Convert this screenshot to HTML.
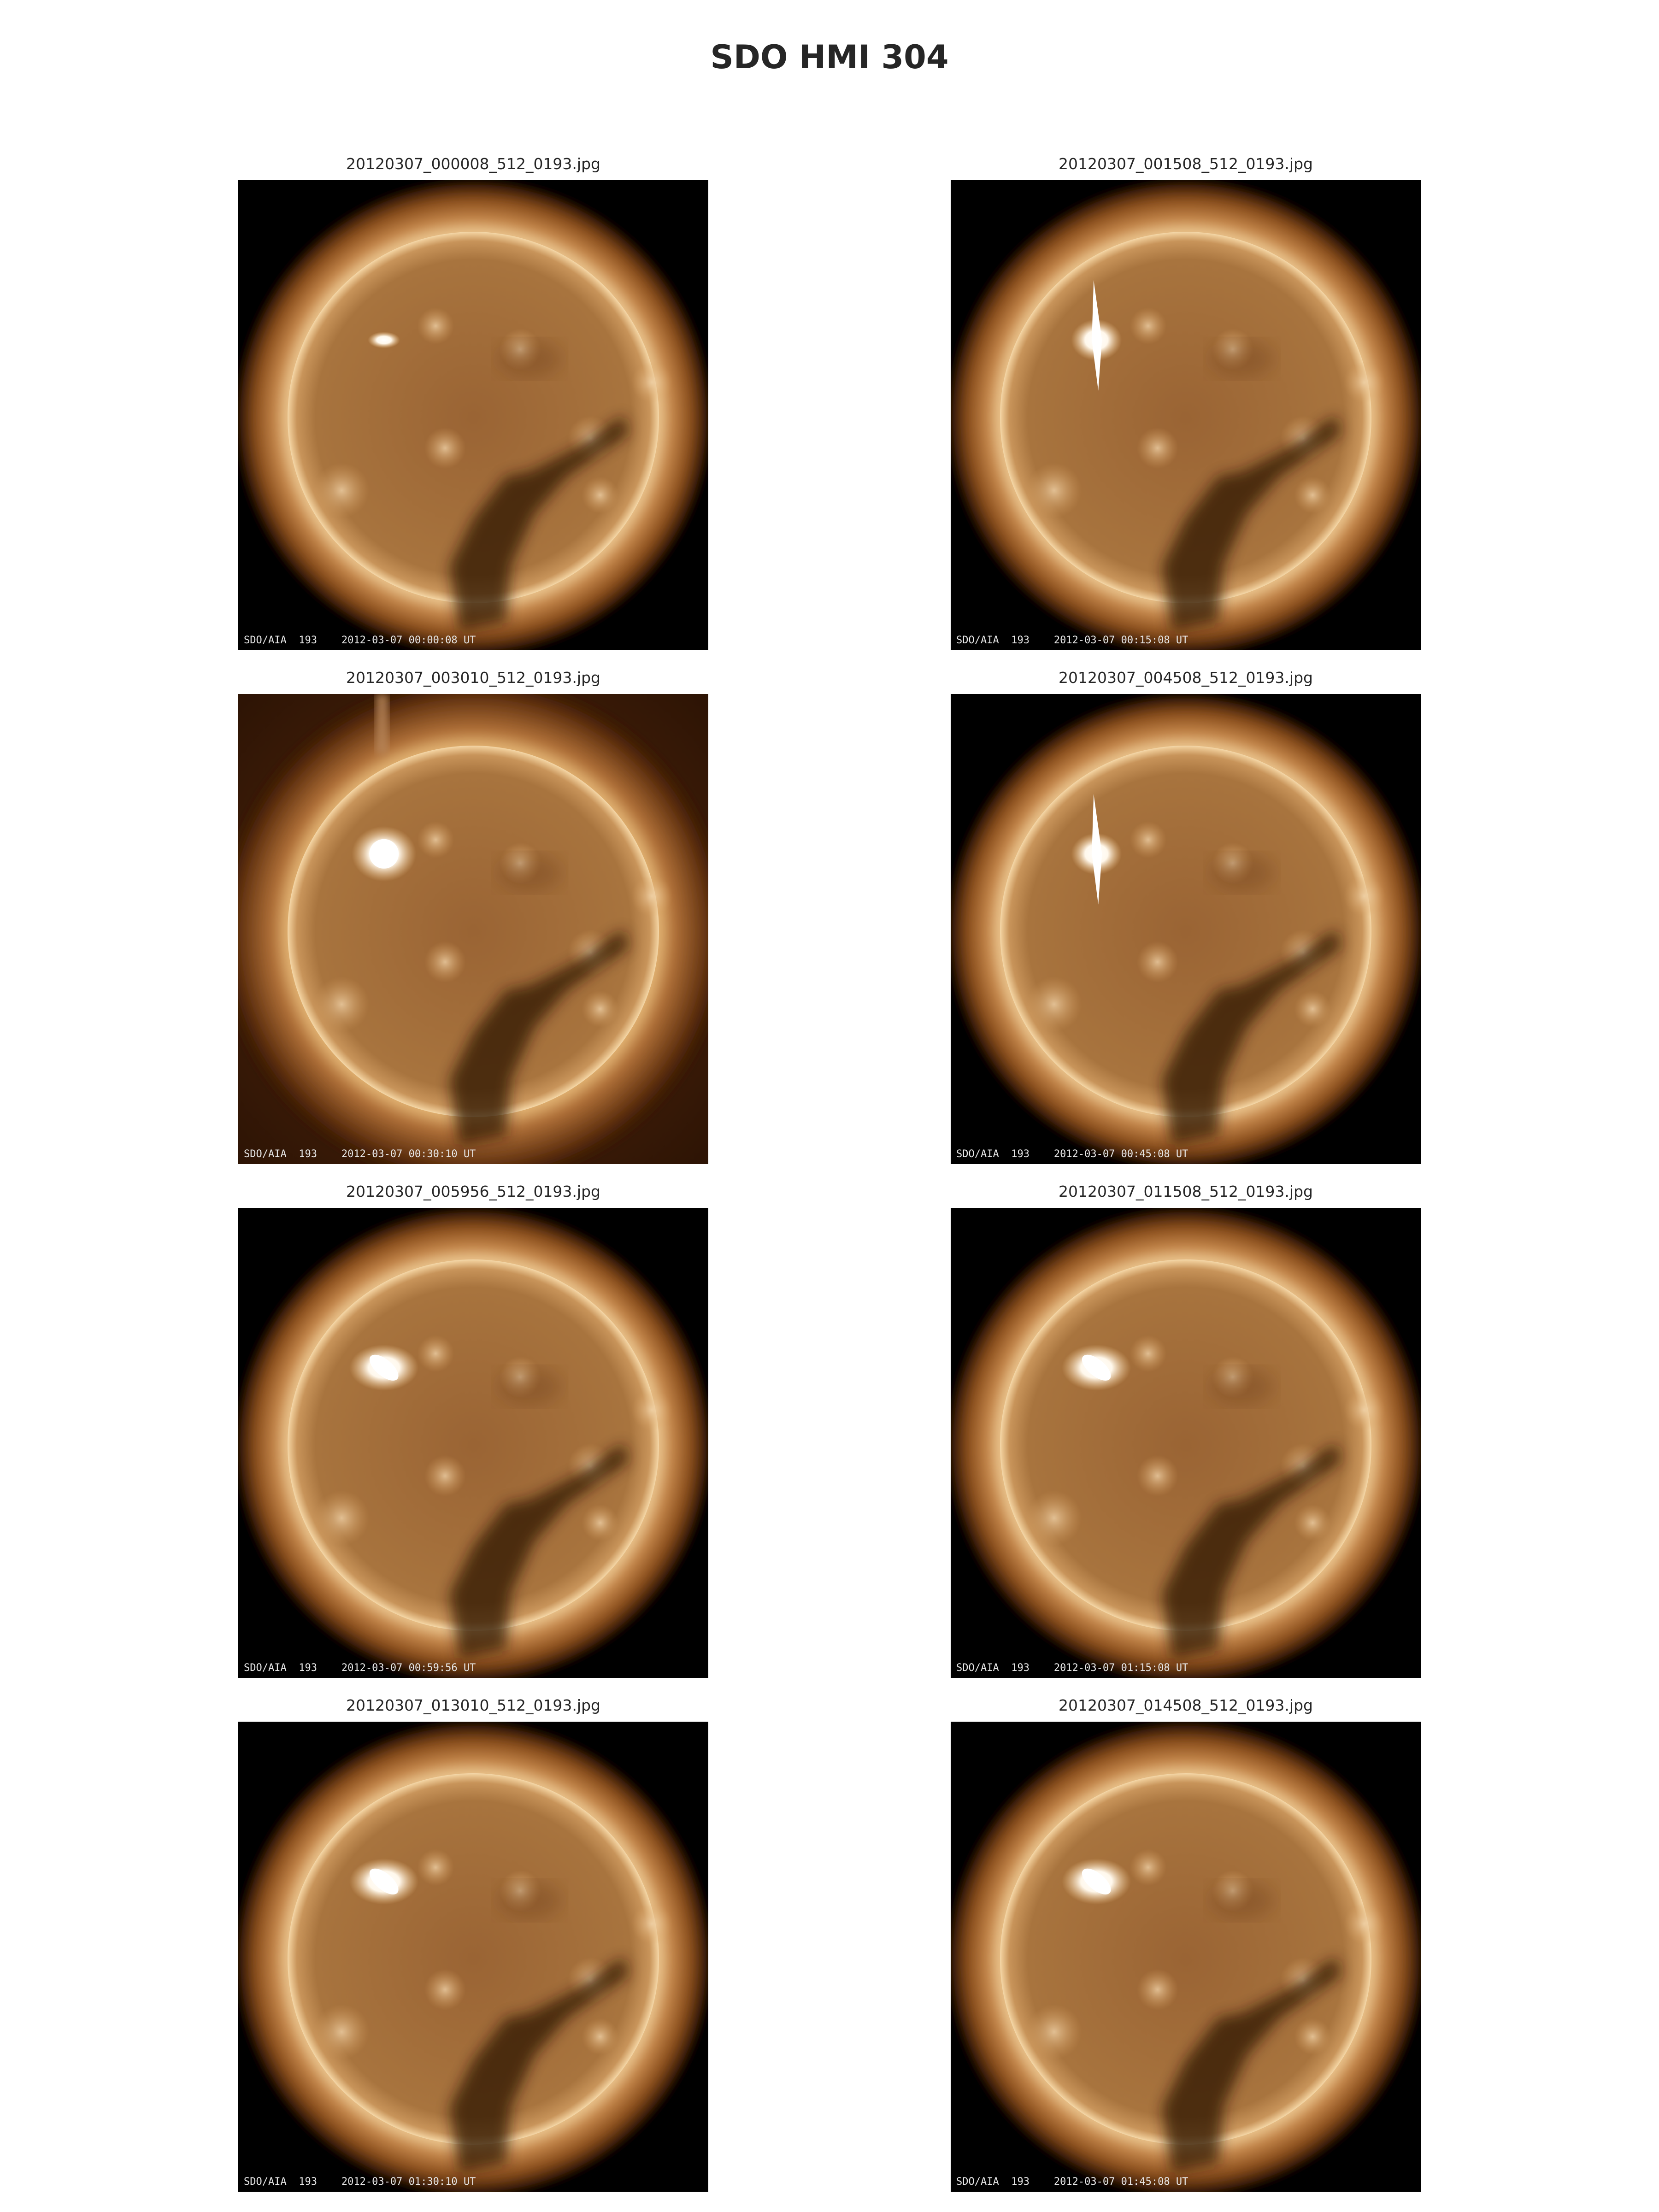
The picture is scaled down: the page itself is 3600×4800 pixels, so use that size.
<!DOCTYPE html>
<html><head><meta charset="utf-8">
<style>
html,body{margin:0;padding:0;background:#fff;}
#fig{position:relative;width:3600px;height:4800px;overflow:hidden;background:#fff;}
</style></head>
<body>
<div id="fig">
<svg id="svg" width="3600" height="4800" viewBox="0 0 3600 4800" xmlns="http://www.w3.org/2000/svg">
<defs>
<radialGradient id="corona" cx="0.5" cy="0.5" r="0.5">
<stop offset="0" stop-color="#f0d0a0"/>
<stop offset="0.77" stop-color="#e8c088"/>
<stop offset="0.82" stop-color="#c4864a"/>
<stop offset="0.9" stop-color="#8a4e1c"/>
<stop offset="0.97" stop-color="#2a1204"/>
<stop offset="1" stop-color="#000" stop-opacity="0"/>
</radialGradient>
<radialGradient id="corona2" cx="0.5" cy="0.5" r="0.5">
<stop offset="0" stop-color="#f0d0a0"/>
<stop offset="0.72" stop-color="#e0b070"/>
<stop offset="0.78" stop-color="#b07038"/>
<stop offset="0.92" stop-color="#5a2c0c"/>
<stop offset="1" stop-color="#3a1a06" stop-opacity="0"/>
</radialGradient>
<radialGradient id="disk" cx="0.5" cy="0.5" r="0.5">
<stop offset="0" stop-color="#9a6434"/>
<stop offset="0.85" stop-color="#a8743e"/>
<stop offset="0.95" stop-color="#c8945a"/>
<stop offset="0.99" stop-color="#ecc894"/>
<stop offset="1" stop-color="#f4d8aa"/>
</radialGradient>
<radialGradient id="flareG" cx="0.5" cy="0.5" r="0.5">
<stop offset="0" stop-color="#ffffff"/>
<stop offset="0.45" stop-color="#fff8ec"/>
<stop offset="1" stop-color="#f0c890" stop-opacity="0"/>
</radialGradient>
<radialGradient id="brightG" cx="0.5" cy="0.5" r="0.5">
<stop offset="0" stop-color="#f0d2a8"/>
<stop offset="1" stop-color="#d8a060" stop-opacity="0"/>
</radialGradient>
<radialGradient id="noiseBg" cx="0.5" cy="0.5" r="0.75">
<stop offset="0" stop-color="#5a2c0c"/>
<stop offset="1" stop-color="#2a1204"/>
</radialGradient>
<filter id="blur8"><feGaussianBlur stdDeviation="8"/></filter>
<filter id="blur15"><feGaussianBlur stdDeviation="15"/></filter>
<filter id="blur20"><feGaussianBlur stdDeviation="20"/></filter>
</defs>
<text x="1800" y="148" text-anchor="middle" font-family="'DejaVu Sans','Liberation Sans',sans-serif" font-weight="bold" font-size="70" fill="#262626">SDO HMI 304</text>
<g id="panels"></g>
</svg>
</div>
<script>
const fileNames = ["20120307_000008_512_0193.jpg","20120307_001508_512_0193.jpg","20120307_003010_512_0193.jpg","20120307_004508_512_0193.jpg","20120307_005956_512_0193.jpg","20120307_011508_512_0193.jpg","20120307_013010_512_0193.jpg","20120307_014508_512_0193.jpg"];
const timeStamps = ["2012-03-07 00:00:08 UT","2012-03-07 00:15:08 UT","2012-03-07 00:30:10 UT","2012-03-07 00:45:08 UT","2012-03-07 00:59:56 UT","2012-03-07 01:15:08 UT","2012-03-07 01:30:10 UT","2012-03-07 01:45:08 UT"];
// flare type per frame: 0 small, 1 vertical spike, 2 blob w/ noisy bg, 3 elongated blob
const flareKind = [0,1,2,1,3,3,3,3];

const NS = "http://www.w3.org/2000/svg";
const colX = [517, 2063], rowY = [391, 1506, 2621, 3736], S = 1020;
const root = document.getElementById('panels');
function mk(tag, attrs, parent){ const e=document.createElementNS(NS,tag); for(const k in attrs) e.setAttribute(k,attrs[k]); parent.appendChild(e); return e; }

fileNames.forEach((fn,i)=>{
  const x0 = colX[i%2], y0 = rowY[Math.floor(i/2)], k = flareKind[i];
  const g = mk('g',{transform:`translate(${x0},${y0})`},root);
  
  
  const t = mk('text',{x:S/2,y:-24,'text-anchor':'middle','font-family':"'DejaVu Sans','Liberation Sans',sans-serif",'font-size':33,fill:'#262626'},g);
  t.textContent = fn;
  
  
  const cp = mk('clipPath',{id:'cp'+i},g); mk('rect',{x:0,y:0,width:S,height:S},cp);
  const inner = mk('g',{'clip-path':`url(#cp${i})`},g);
  mk('rect',{x:0,y:0,width:S,height:S,fill:k===2?'url(#noiseBg)':'#000'},inner);
  const cx=S/2, cy=S/2+5, r=403;
  mk('circle',{cx:cx,cy:cy,r:k===2?560:525,fill:k===2?'url(#corona2)':'url(#corona)',filter:'url(#blur8)'},inner);
  if(k===2){ mk('rect',{x:298,y:0,width:28,height:130,fill:'#b8865a',opacity:0.8,filter:'url(#blur8)'},inner); }
  mk('circle',{cx:cx,cy:cy,r:r,fill:'url(#disk)'},inner);
  [[0.42,0.31,40],[0.88,0.43,45],[0.22,0.66,60],[0.44,0.57,45],[0.75,0.55,50],[0.77,0.67,40],[0.6,0.36,45]].forEach(p=>{
    mk('circle',{cx:p[0]*S,cy:p[1]*S,r:p[2],fill:'url(#brightG)',opacity:0.8},inner);
  });
  mk('path',{d:`M ${0.47*S} ${0.96*S} L ${0.45*S} ${0.82*S} L ${0.50*S} ${0.72*S} L ${0.57*S} ${0.63*S} L ${0.62*S} ${0.62*S} L ${0.72*S} ${0.57*S} L ${0.82*S} ${0.50*S} L ${0.83*S} ${0.54*S} L ${0.70*S} ${0.63*S} L ${0.63*S} ${0.71*S} L ${0.58*S} ${0.82*S} L ${0.57*S} ${0.94*S} Z`,fill:'#2e1404',opacity:0.75,filter:'url(#blur15)'},inner);
  mk('ellipse',{cx:0.62*S,cy:0.38*S,rx:70,ry:40,fill:'#6a3a14',opacity:0.35,filter:'url(#blur20)'},inner);
  const fx=0.31*S, fy=0.34*S;
  if(k===0){ mk('ellipse',{cx:fx,cy:fy,rx:35,ry:18,fill:'url(#flareG)'},inner); }
  else if(k===1){ mk('ellipse',{cx:fx,cy:fy,rx:55,ry:45,fill:'url(#flareG)'},inner);
    mk('path',{d:`M ${fx-6} ${fy-130} L ${fx+12} ${fy} L ${fx+4} ${fy+110} L ${fx-10} ${fy} Z`,fill:'#fff'},inner); }
  else if(k===2){ mk('ellipse',{cx:fx,cy:fy,rx:70,ry:60,fill:'url(#flareG)'},inner); mk('circle',{cx:fx,cy:fy,r:32,fill:'#fff'},inner); }
  else { mk('ellipse',{cx:fx,cy:fy,rx:75,ry:50,fill:'url(#flareG)'},inner);
    mk('ellipse',{cx:fx,cy:fy,rx:38,ry:18,fill:'#fff',transform:`rotate(40 ${fx} ${fy})`},inner); }
  const lab = mk('text',{x:12,y:1005,'font-family':"'DejaVu Sans Mono','Liberation Mono',monospace",'font-size':22,fill:'#e8e8e8'},inner);
  lab.textContent = 'SDO/AIA  193    ' + timeStamps[i];
  lab.setAttribute('xml:space','preserve');
  lab.style.whiteSpace='pre';
  
  
});
</script>
</body></html>
